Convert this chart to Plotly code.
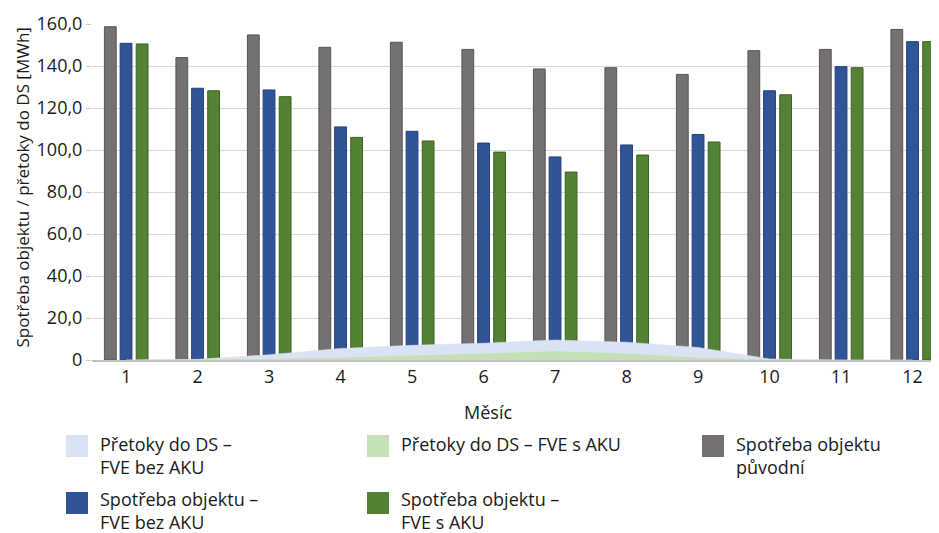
import plotly.graph_objects as go

months = list(range(1, 13))
puvodni = [158.7, 144.0, 154.8, 148.9, 151.3, 147.9, 138.6, 139.2, 136.0, 147.3, 147.9, 157.4]
spotreba_bez_aku = [150.8, 129.4, 128.6, 111.0, 108.9, 103.3, 96.7, 102.4, 107.4, 128.2, 139.7, 151.6]
spotreba_s_aku = [150.5, 128.2, 125.4, 106.0, 104.3, 99.0, 89.5, 97.6, 103.8, 126.3, 139.2, 151.6]
pretoky_bez_aku = [0, 0.3, 2.5, 5.5, 7.0, 8.0, 9.5, 8.5, 6.0, 0.5, 0, 0]
pretoky_s_aku = [0, 0, 0.3, 1.0, 2.0, 3.0, 4.0, 3.0, 1.0, 0, 0, 0]

y_tickvals = [0, 20, 40, 60, 80, 100, 120, 140, 160]
y_ticktext = ["0", "20,0", "40,0", "60,0", "80,0", "100,0", "120,0", "140,0", "160,0"]

legend_names = [
    "Přetoky do DS –<br>FVE bez AKU",
    "Přetoky do DS – FVE s AKU",
    "Spotřeba objektu<br>původní",
    "Spotřeba objektu –<br>FVE bez AKU",
    "Spotřeba objektu –<br>FVE s AKU",
]

C_LB = "#dae3f3"
C_LG = "#c5e0b4"
C_GRAY = "#767171"
C_BLUE = "#2f5597"
C_GREEN = "#548235"
TXT = "#1a1a1a"
FONT = "Open Sans"

OFF = 8  # page body margin
W, H = 939 - OFF, 533 - OFF
L, R, T = 92 - OFF, 0, 24 - OFF
B = H - (360 - OFF)
PW, PH = W - L - R, H - T - B

fig = go.Figure()

# areas (behind bars)
fig.add_trace(go.Scatter(x=months, y=pretoky_bez_aku, mode="lines", fill="tozeroy",
                         line=dict(color=C_LB, width=0.5), fillcolor=C_LB,
                         name=legend_names[0], showlegend=False))
fig.add_trace(go.Scatter(x=months, y=pretoky_s_aku, mode="lines", fill="tozeroy",
                         line=dict(color=C_LG, width=0.5), fillcolor=C_LG,
                         name=legend_names[1], showlegend=False))

bw = 0.165
fig.add_trace(go.Bar(x=months, y=puvodni, width=bw, offset=-0.22 - bw / 2,
                     marker=dict(color=C_GRAY, line=dict(color="#595555", width=1)),
                     name=legend_names[2], showlegend=False))
fig.add_trace(go.Bar(x=months, y=spotreba_bez_aku, width=bw, offset=-bw / 2,
                     marker=dict(color=C_BLUE, line=dict(color="#22407a", width=1)),
                     name=legend_names[3], showlegend=False))
fig.add_trace(go.Bar(x=months, y=spotreba_s_aku, width=bw, offset=0.225 - bw / 2,
                     marker=dict(color=C_GREEN, line=dict(color="#3b6124", width=1)),
                     name=legend_names[4], showlegend=False))


def px_x(px):
    return (px - OFF - L) / PW


def px_y(py):
    return (H - B - (py - OFF)) / PH


shapes = []
annotations = []
legend_items = [
    (66, 435, C_LB, legend_names[0], 0),
    (367, 435, C_LG, legend_names[1], 0),
    (702, 435, C_GRAY, legend_names[2], 0),
    (66, 492, C_BLUE, legend_names[3], -2),
    (367, 492, C_GREEN, legend_names[4], -2),
]
for x0, y0, col, name, dy in legend_items:
    shapes.append(dict(type="rect", xref="paper", yref="paper",
                       x0=px_x(x0), x1=px_x(x0 + 22), y0=px_y(y0), y1=px_y(y0 + 22),
                       fillcolor=col, line=dict(width=0)))
    annotations.append(dict(xref="paper", yref="paper", x=px_x(x0 + 32), y=px_y(y0 - 5 + dy),
                            xanchor="left", yanchor="top", align="left", showarrow=False,
                            text=name, font=dict(size=18, color=TXT, family=FONT)))

annotations.append(dict(xref="paper", yref="paper", x=px_x(488), y=px_y(398),
                        xanchor="center", yanchor="top", showarrow=False, text="Měsíc",
                        font=dict(size=18, color=TXT, family=FONT)))
annotations.append(dict(xref="paper", yref="paper", x=px_x(8), y=px_y(188),
                        xanchor="left", yanchor="middle", showarrow=False, textangle=-90,
                        text="Spotřeba objektu / přetoky do DS [MWh]",
                        font=dict(size=17, color=TXT, family=FONT)))

fig.update_layout(
    width=W, height=H,
    margin=dict(l=L, r=R, t=T, b=B),
    paper_bgcolor="white", plot_bgcolor="white",
    barmode="overlay",
    font=dict(family=FONT, size=18, color=TXT),
    shapes=shapes, annotations=annotations,
    xaxis=dict(range=[0.524, 12.37], tickvals=months, ticktext=[str(m) for m in months],
               showgrid=False, zeroline=False, showline=True, linecolor="#bfbfbf", linewidth=1.5,
               ticks="", tickfont=dict(size=18)),
    yaxis=dict(range=[0, 160], tickvals=y_tickvals, ticktext=y_ticktext,
               showgrid=True, gridcolor="#d9d9d9", gridwidth=1.2, zeroline=False, showline=False,
               ticks="outside", ticklen=5, tickcolor="#c8c8c8", tickfont=dict(size=18)),
)

fig.write_html("out.html")
